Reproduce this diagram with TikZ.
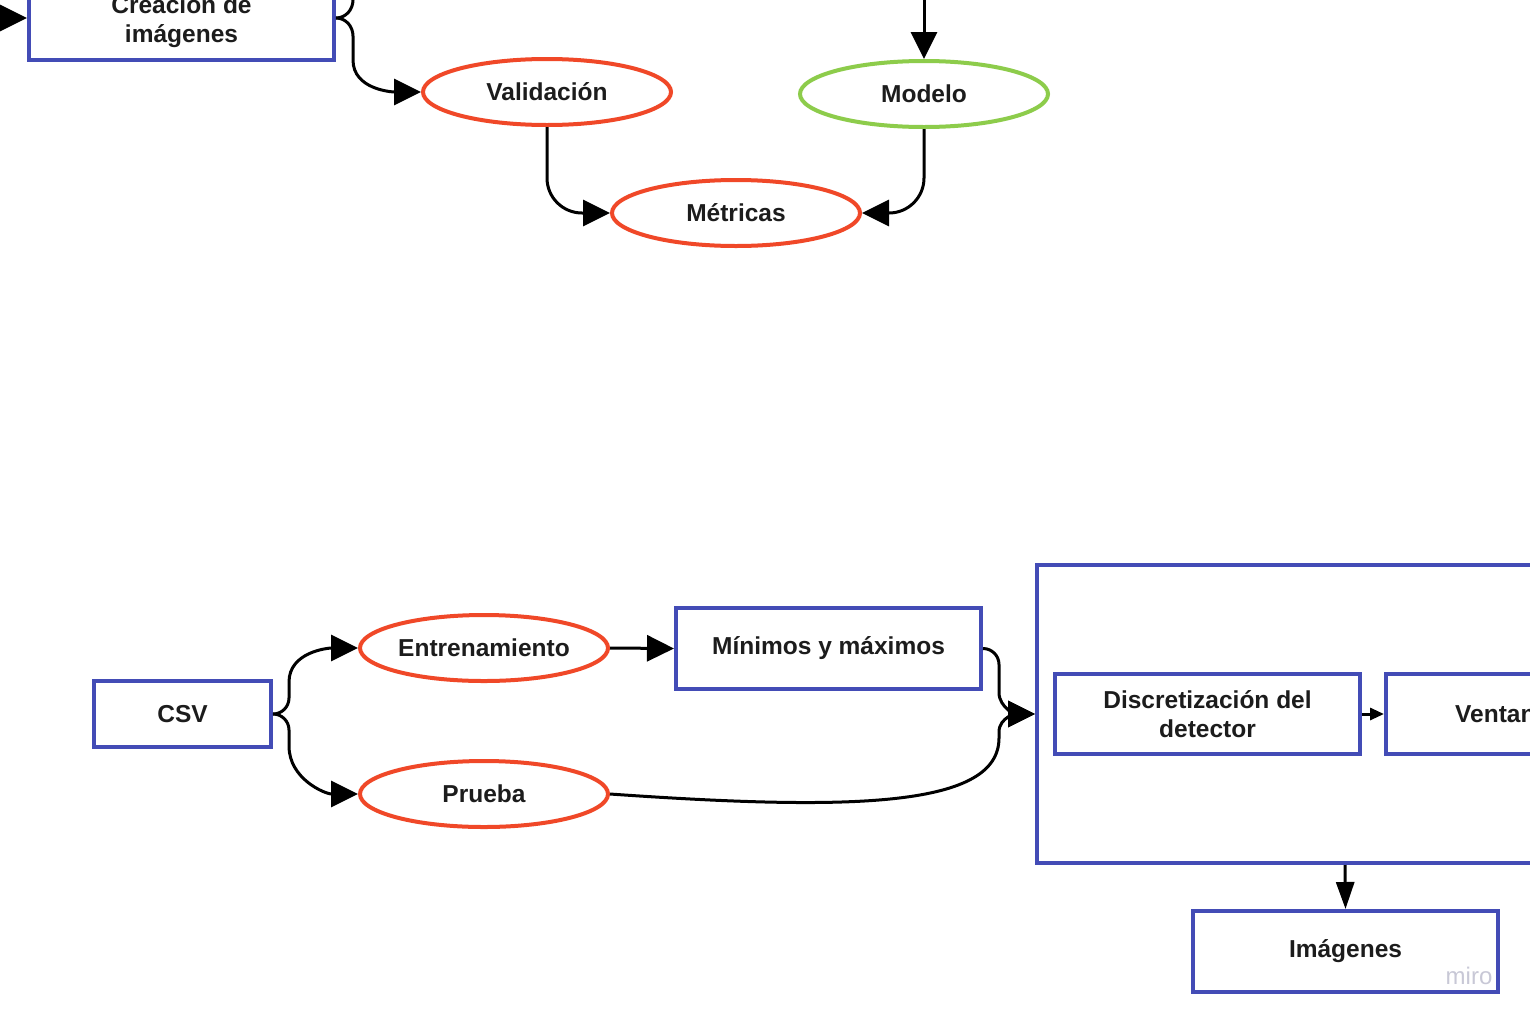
\documentclass[tikz,border=0pt]{standalone}
\usepackage{fontspec}
\setmainfont{Liberation Sans}
\usepackage{xcolor}
\usepackage{tikz}
\usetikzlibrary{positioning,arrows.meta,shapes.geometric}
\definecolor{boxblue}{RGB}{67,76,182}
\definecolor{ovalred}{RGB}{240,72,40}
\definecolor{ovalgreen}{RGB}{141,204,75}
\definecolor{inkgray}{RGB}{28,28,28}
\definecolor{markgray}{RGB}{200,200,214}

\begin{document}
\begin{tikzpicture}[x=1pt, y=1pt,
  every node/.style={font=\fontsize{24.5}{29}\selectfont\bfseries,
    text=inkgray, align=center},
  stage/.style={rectangle, draw=boxblue, line width=4pt,
    minimum width=305pt, minimum height=81pt, inner sep=2pt},
  oval/.style={ellipse, draw=ovalred, line width=4pt,
    minimum width=248pt, minimum height=66pt, inner sep=0pt},
  conn/.style={draw=black, line width=3pt},
  arr/.style={conn, -{Triangle[length=27pt,width=26pt]}},
  arrsmall/.style={conn, -{Triangle[length=14pt,width=12pt]}},
  arrdown/.style={conn, -{Triangle[length=27pt,width=18pt]}}
]
\useasboundingbox (0,-1020) rectangle (1530,0);
\fill[white] (0,-1020) rectangle (1530,0);
\clip (0,-1020) rectangle (1530,0);

% upper part
\node[stage, minimum height=76pt] (cre) at (181.5,-22) {Creación de\\imágenes};
\node[oval] (val) at (547,-92) {Validación};
\node[oval, draw=ovalgreen] (mod) at (924,-94) {Modelo};
\node[oval] (met) at (736,-213) {Métricas};
\coordinate (crein) at (-60,-18);
\coordinate (modin) at (924,60);

\draw[arr] (crein) -- (crein -| cre.west);
\draw[arr] (modin) -- (mod.north);
\draw[conn] (cre.east |- crein) to[out=0,in=-90] ++(17,18) -- ++(0,60);
\draw[arr] (cre.east |- crein) to[out=0,in=90] ++(17,-18) -- ++(0,-24)
  to[out=-90,in=180] (val.west);
\draw[arr, rounded corners=35pt] (val.south) |- (met.west);
\draw[arr, rounded corners=35pt] (mod.south) |- (met.east);

% lower part
\node[stage, minimum width=177pt, minimum height=66pt] (csv) at (182.5,-714) {CSV};
\node[oval] (ent) at (484,-648) {Entrenamiento};
\node[oval] (pru) at (484,-794) {Prueba};
\node[stage] (min) at (828.5,-648.5) {Mínimos y máximos};
\node[stage, minimum width=616pt, minimum height=298pt] (big) at (1345,-714) {};
\node[stage, minimum height=80pt] (dis) at (1207.5,-714) {Discretización del\\detector};
\node[stage, minimum width=246pt, minimum height=80pt] (ven) at (1509,-714) {Ventanas};
\node[stage] (img) at (1345.5,-951.5) {Imágenes};
\coordinate (jn) at (999,-738);

\draw[arr] (csv.east) to[out=0,in=-90] ++(16,16) -- ++(0,16)
  to[out=90,in=180] (ent.west);
\draw[arr] (csv.east) to[out=0,in=90] ++(16,-16) -- ++(0,-16)
  to[out=-90,in=180] (pru.west);
\draw[arr] (ent.east) -- (min.west);
\draw[arr] (min.east) to[out=0,in=90] ++(16,-16) -- ++(0,-28)
  to[out=-90,in=180] (big.west);
\draw[arr] (pru.east) to[out=-4,in=-90,out looseness=1.6,in looseness=0.45] (jn)
  -- ++(0,6) to[out=90,in=180] (big.west);
\draw[arrsmall] (dis.east) -- (ven.west);
\draw[arrdown] (big.south) -- (img.north);

\node[font=\fontsize{24}{24}\selectfont, text=markgray, fill=white,
  fill opacity=0.45, text opacity=1, inner sep=2pt] (mark) at (1469,-976) {miro};
\end{tikzpicture}
\end{document}
